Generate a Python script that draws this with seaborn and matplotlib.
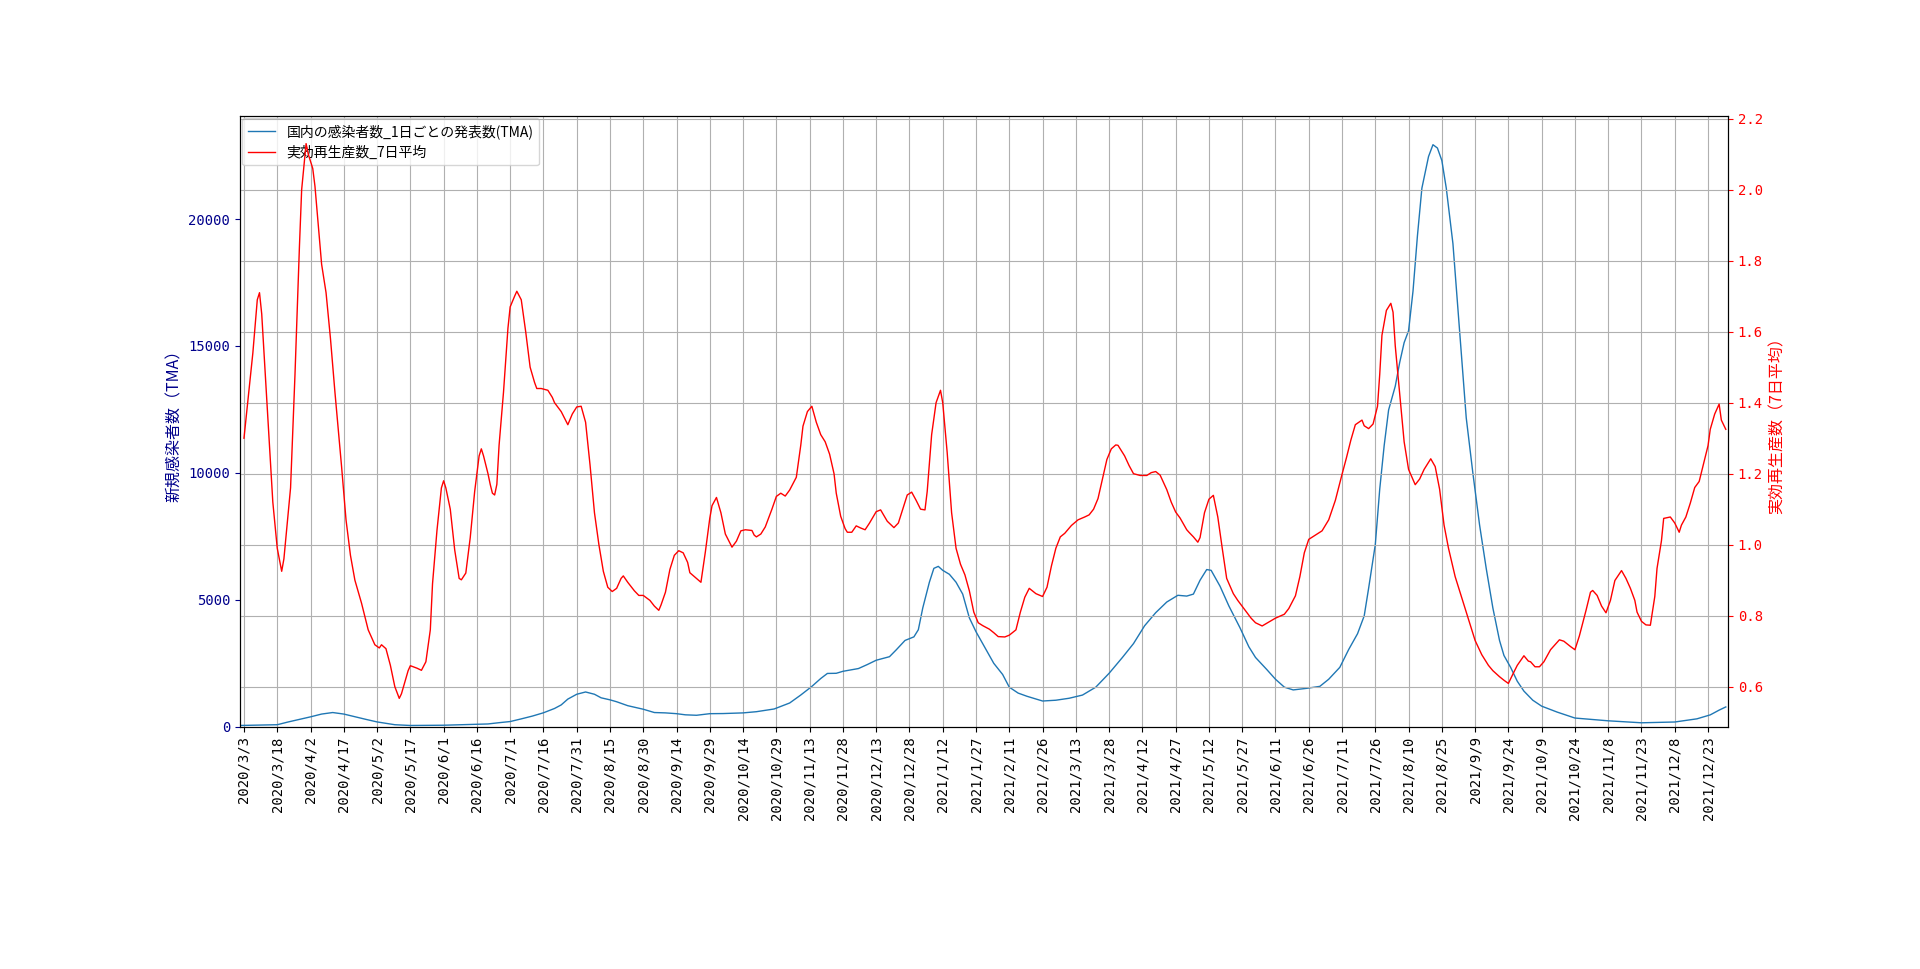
import matplotlib
matplotlib.use("Agg")
import matplotlib.pyplot as plt
import seaborn as sns
import pandas as pd

# ---------------- data ----------------
BASE_DATE = "2020-03-03"   # day offsets below are counted from this date

# 国内の感染者数_1日ごとの発表数(TMA)
blue_day = [-2, 15, 20, 25, 30, 35, 40, 45, 50, 55, 60, 68, 75, 90, 105, 110, 115, 120,
            125, 130, 135, 140, 143, 146, 150, 154, 158, 161, 165, 168, 173, 180, 185,
            190, 195, 199, 204, 210, 216, 225, 231, 239, 246, 251, 256, 260, 263, 267,
            270, 277, 281, 285, 291, 294, 298, 302, 304, 306, 309, 311, 313, 315, 318,
            321, 324, 327, 330, 335, 338, 342, 345, 349, 353, 360, 366, 372, 378, 384,
            390, 396, 401, 406, 411, 416, 419, 421, 425, 428, 431, 434, 436, 440, 444,
            449, 453, 456, 461, 465, 469, 473, 479, 485, 489, 494, 498, 502, 505, 507,
            510, 512, 514, 516, 519, 521, 523, 525, 527, 529, 531, 534, 536, 538, 540,
            542, 545, 548, 551, 554, 557, 560, 563, 566, 568, 571, 574, 577, 581, 585,
            592, 600, 615, 630, 645, 655, 661, 665, 668]
blue_val = [50, 80, 190, 290, 390, 500, 560, 500, 395, 290, 190, 80, 50, 60, 95, 110, 160, 205,
            310, 420, 550, 720, 860, 1090, 1280, 1370, 1280, 1140, 1060, 985, 830, 690, 560,
            546, 515, 470, 452, 515, 520, 546, 593, 700, 936, 1250, 1590, 1900, 2100, 2106,
            2184, 2293, 2450, 2620, 2760, 3026, 3400, 3541, 3822, 4680, 5700, 6240, 6318, 6162, 6006,
            5694, 5226, 4290, 3744, 2964, 2500, 2060, 1560, 1326, 1200, 1014, 1045, 1123, 1248, 1560,
            2106, 2730, 3276, 3978, 4493, 4914, 5070, 5179, 5148, 5226, 5772, 6193, 6162, 5538, 4758,
            3900, 3150, 2730, 2262, 1872, 1560, 1451, 1513, 1591, 1872, 2340, 3042, 3666, 4368, 5460,
            7176, 9360, 11076, 12480, 13416, 14352, 15132, 15600, 17160, 19344, 21216, 22464, 22930, 22800, 22308,
            21216, 19032, 15600, 12168, 9984, 7956, 6240, 4680, 3400, 2808, 2340, 1794, 1404, 1045, 811,
            577, 343, 234, 156, 187, 312, 468, 655, 780]

# 実効再生産数_7日平均
red_day = [0, 1, 4, 6, 7, 8, 10, 13, 15, 17, 18, 21, 23, 25, 26, 28, 29, 31, 32, 35, 37, 39,
           41, 44, 46, 48, 50, 53, 56, 59, 61, 62, 64, 66, 68, 70, 71, 74, 75, 78, 80, 82,
           84, 85, 87, 89, 90, 91, 93, 95, 97, 98, 100, 102, 104, 106, 107, 108, 110, 111,
           112, 113, 114, 115, 117, 119, 120, 122, 123, 125, 127, 129, 131, 132, 134, 137,
           139, 140, 143, 146, 148, 150, 152, 154, 156, 158, 160, 162, 164, 166, 168, 170,
           171, 173, 176, 178, 180, 183, 185, 187, 188, 190, 192, 194, 196, 198, 200, 201,
           204, 206, 208, 210, 211, 213, 215, 217, 220, 222, 224, 226, 229, 230, 231, 233,
           235, 238, 240, 242, 244, 246, 249, 251, 252, 254, 256, 258, 260, 262, 264, 266,
           267, 269, 271, 272, 274, 276, 278, 280, 282, 285, 287, 290, 293, 295, 297, 299,
           301, 303, 305, 307, 308, 310, 312, 314, 315, 317, 319, 321, 323, 325, 327, 329,
           331, 333, 336, 338, 340, 343, 345, 348, 350, 352, 354, 357, 360, 362, 364, 366,
           368, 370, 373, 376, 379, 381, 383, 385, 387, 389, 391, 393, 394, 397, 399, 401,
           404, 407, 409, 411, 413, 416, 418, 420, 422, 425, 426, 428, 430, 431, 433, 435,
           437, 439, 441, 443, 446, 448, 451, 454, 456, 459, 462, 465, 469, 471, 474, 476,
           478, 480, 483, 486, 489, 492, 495, 497, 499, 501, 504, 505, 507, 509, 511, 512,
           513, 515, 517, 518, 519, 521, 523, 525, 528, 530, 532, 535, 537, 539, 541, 543,
           546, 549, 552, 555, 558, 561, 563, 566, 568, 570, 572, 574, 577, 579, 580, 582,
           584, 586, 589, 591, 593, 595, 598, 600, 602, 605, 607, 608, 610, 612, 614, 616,
           618, 621, 623, 625, 627, 628, 630, 632, 634, 636, 637, 639, 640, 643, 645, 647,
           648, 650, 652, 654, 656, 658, 660, 661, 663, 665, 666, 668]
red_val = [1.30, 1.36, 1.54, 1.69, 1.71, 1.65, 1.44, 1.12, 0.99, 0.925, 0.96, 1.16, 1.48, 1.84, 2.00, 2.13, 2.10, 2.06, 2.01, 1.79, 1.71, 1.58,
           1.43, 1.22, 1.07, 0.97, 0.90, 0.835, 0.76, 0.718, 0.709, 0.718, 0.707, 0.66, 0.60, 0.567, 0.58, 0.645, 0.659, 0.652, 0.646, 0.67,
           0.76, 0.89, 1.04, 1.16, 1.18, 1.16, 1.10, 0.985, 0.905, 0.901, 0.92, 1.02, 1.15, 1.25, 1.27, 1.25, 1.20, 1.17,
           1.145, 1.14, 1.17, 1.28, 1.43, 1.61, 1.67, 1.70, 1.714, 1.69, 1.60, 1.50, 1.457, 1.44, 1.44, 1.435,
           1.415, 1.40, 1.375, 1.338, 1.368, 1.388, 1.39, 1.345, 1.225, 1.09, 1.0, 0.925, 0.88, 0.868, 0.877, 0.905,
           0.912, 0.894, 0.87, 0.857, 0.857, 0.843, 0.827, 0.815, 0.83, 0.866, 0.93, 0.97, 0.983, 0.977, 0.95, 0.921,
           0.905, 0.894, 0.98, 1.075, 1.11, 1.133, 1.09, 1.03, 0.993, 1.01, 1.039, 1.042, 1.04, 1.027, 1.022, 1.03,
           1.05, 1.10, 1.136, 1.145, 1.137, 1.154, 1.19, 1.28, 1.334, 1.375, 1.39, 1.345, 1.31, 1.29, 1.255, 1.20,
           1.145, 1.08, 1.045, 1.035, 1.035, 1.053, 1.047, 1.042, 1.061, 1.093, 1.098, 1.066, 1.048, 1.061, 1.10, 1.14,
           1.148, 1.125, 1.10, 1.098, 1.15, 1.31, 1.40, 1.435, 1.40, 1.26, 1.09, 0.99, 0.945, 0.915, 0.87, 0.81,
           0.78, 0.772, 0.762, 0.752, 0.741, 0.74, 0.745, 0.76, 0.81, 0.852, 0.877, 0.862, 0.854, 0.88, 0.94, 0.99,
           1.022, 1.032, 1.054, 1.07, 1.078, 1.084, 1.10, 1.13, 1.185, 1.24, 1.27, 1.281, 1.28, 1.25, 1.223, 1.20,
           1.195, 1.195, 1.203, 1.206, 1.196, 1.155, 1.12, 1.092, 1.075, 1.042, 1.035, 1.022, 1.007, 1.02, 1.09, 1.128,
           1.139, 1.078, 0.99, 0.905, 0.862, 0.843, 0.818, 0.793, 0.78, 0.771, 0.782, 0.793, 0.804, 0.82, 0.856, 0.91,
           0.977, 1.015, 1.027, 1.039, 1.07, 1.125, 1.198, 1.245, 1.295, 1.338, 1.351, 1.335, 1.327, 1.34, 1.39, 1.48,
           1.59, 1.66, 1.68, 1.655, 1.56, 1.425, 1.29, 1.212, 1.169, 1.185, 1.212, 1.242, 1.22, 1.156, 1.055, 0.99,
           0.91, 0.85, 0.79, 0.73, 0.69, 0.66, 0.645, 0.628, 0.618, 0.609, 0.635, 0.66, 0.687, 0.672, 0.67, 0.656,
           0.656, 0.67, 0.704, 0.718, 0.732, 0.728, 0.713, 0.704, 0.743, 0.815, 0.866, 0.871, 0.857, 0.827, 0.808, 0.843,
           0.899, 0.927, 0.905, 0.877, 0.843, 0.81, 0.784, 0.774, 0.773, 0.854, 0.933, 1.011, 1.074, 1.078, 1.061, 1.035,
           1.055, 1.078, 1.117, 1.161, 1.178, 1.228, 1.279, 1.325, 1.368, 1.396, 1.351, 1.325]

series_labels = ["国内の感染者数_1日ごとの発表数(TMA)", "実効再生産数_7日平均"]
left_label = "新規感染者数（TMA）"
right_label = "実効再生産数（7日平均）"

x_tick_dates = ["2020-03-03", "2020-03-18", "2020-04-02", "2020-04-17", "2020-05-02",
                "2020-05-17", "2020-06-01", "2020-06-16", "2020-07-01", "2020-07-16",
                "2020-07-31", "2020-08-15", "2020-08-30", "2020-09-14", "2020-09-29",
                "2020-10-14", "2020-10-29", "2020-11-13", "2020-11-28", "2020-12-13",
                "2020-12-28", "2021-01-12", "2021-01-27", "2021-02-11", "2021-02-26",
                "2021-03-13", "2021-03-28", "2021-04-12", "2021-04-27", "2021-05-12",
                "2021-05-27", "2021-06-11", "2021-06-26", "2021-07-11", "2021-07-26",
                "2021-08-10", "2021-08-25", "2021-09-09", "2021-09-24", "2021-10-09",
                "2021-10-24", "2021-11-08", "2021-11-23", "2021-12-08", "2021-12-23"]
x_tick_labels = ["2020/3/3", "2020/3/18", "2020/4/2", "2020/4/17", "2020/5/2",
                 "2020/5/17", "2020/6/1", "2020/6/16", "2020/7/1", "2020/7/16",
                 "2020/7/31", "2020/8/15", "2020/8/30", "2020/9/14", "2020/9/29",
                 "2020/10/14", "2020/10/29", "2020/11/13", "2020/11/28", "2020/12/13",
                 "2020/12/28", "2021/1/12", "2021/1/27", "2021/2/11", "2021/2/26",
                 "2021/3/13", "2021/3/28", "2021/4/12", "2021/4/27", "2021/5/12",
                 "2021/5/27", "2021/6/11", "2021/6/26", "2021/7/11", "2021/7/26",
                 "2021/8/10", "2021/8/25", "2021/9/9", "2021/9/24", "2021/10/9",
                 "2021/10/24", "2021/11/8", "2021/11/23", "2021/12/8", "2021/12/23"]
left_ticks = [0, 5000, 10000, 15000, 20000]
left_tick_labels = ["0", "5000", "10000", "15000", "20000"]
right_ticks = [0.6, 0.8, 1.0, 1.2, 1.4, 1.6, 1.8, 2.0, 2.2]
right_tick_labels = ["0.6", "0.8", "1.0", "1.2", "1.4", "1.6", "1.8", "2.0", "2.2"]

# ---------------- figure ----------------
plt.rcParams["font.family"] = ["Noto Sans CJK JP", "DejaVu Sans"]
TICK_FONT = "DejaVu Sans Mono"

base = pd.Timestamp(BASE_DATE)
df_blue = pd.DataFrame({"date": base + pd.to_timedelta(blue_day, unit="D"), "value": blue_val})
df_red = pd.DataFrame({"date": base + pd.to_timedelta(red_day, unit="D"), "value": red_val})

fig, ax1 = plt.subplots(figsize=(19.2, 9.69), dpi=100)
fig.subplots_adjust(left=0.125, right=0.9, top=0.88, bottom=0.25)

sns.lineplot(data=df_blue, x="date", y="value", ax=ax1, color="#1f77b4",
             linewidth=1.0, legend=False)
ax2 = ax1.twinx()
sns.lineplot(data=df_red, x="date", y="value", ax=ax2, color="red",
             linewidth=1.0, legend=False)

ax1.set_xlim(pd.Timestamp("2020-03-01 05:00"), pd.Timestamp("2022-01-01"))
ax1.set_ylim(0, 24050)
ax2.set_ylim(0.487, 2.207)

ax1.set_xticks(pd.to_datetime(x_tick_dates))
ax1.set_xticklabels(x_tick_labels, rotation=90, fontfamily=TICK_FONT, fontsize=10)
ax1.set_yticks(left_ticks, labels=left_tick_labels, fontfamily=TICK_FONT, fontsize=10)
ax2.set_yticks(right_ticks, labels=right_tick_labels, fontfamily=TICK_FONT, fontsize=10)

ax1.tick_params(axis="y", colors="darkblue")
ax2.tick_params(axis="y", colors="red")

ax1.set_xlabel("")
ax2.set_xlabel("")
ax1.set_ylabel(left_label, color="darkblue", fontsize=11.5)
ax2.set_ylabel(right_label, color="red", fontsize=11.5)

ax1.grid(axis="x", color="#b0b0b0", linewidth=0.8)
ax2.grid(axis="y", color="#b0b0b0", linewidth=0.8)

handles = [ax1.lines[0], ax2.lines[0]]
ax1.legend(handles, series_labels, loc="upper left", fontsize=10, borderaxespad=0.15)

fig.savefig("out.png", dpi=100)
